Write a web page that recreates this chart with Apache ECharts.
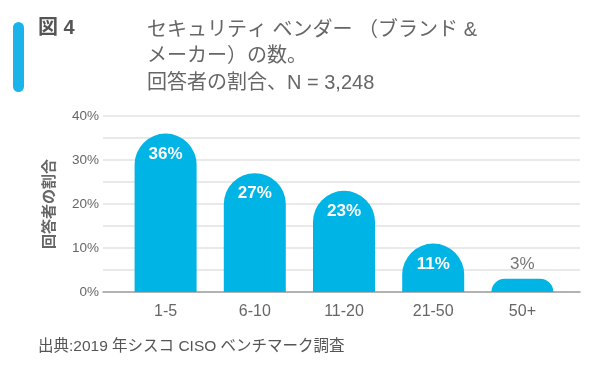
<!DOCTYPE html>
<html><head><meta charset="utf-8">
<script src="https://cdn.jsdelivr.net/npm/echarts@6/dist/echarts.min.js"></script>
<style>html,body{margin:0;padding:0;background:#fff}#c{width:600px;height:370px}</style>
</head><body><div id="c"></div>
<script>
const categories = ['1-5', '6-10', '11-20', '21-50', '50+'];
const values = [36, 27, 23, 11, 3];
const yTicks = [0, 10, 20, 30, 40];
const figLabel = '図 4';
const titleLines = ['セキュリティ ベンダー （ブランド &', 'メーカー）の数。', '回答者の割合、N = 3,248'];
const yName = '回答者の割合';
const sourceText = '出典:2019 年シスコ CISO ベンチマーク調査';

const FONT = '"Liberation Sans", "Noto Sans CJK JP", sans-serif';
const chart = echarts.init(document.getElementById('c'));
const yMax = yTicks[yTicks.length - 1];

chart.setOption({
  animation: false,
  grid: [
    {left: 103, right: 20, top: 116, bottom: 78},
    {left: 121, right: 33, top: 116, bottom: 78}
  ],
  xAxis: [
    {gridIndex: 0, type: 'value', min: 0, max: 1, axisLine: {show: true, lineStyle: {color: '#a0a0a0', width: 1.5}},
     axisTick: {show: false}, axisLabel: {show: false}, splitLine: {show: false}},
    {gridIndex: 1, type: 'category', data: categories, axisLine: {show: false}, axisTick: {show: false},
     axisLabel: {color: '#666', fontSize: 16, fontFamily: FONT, margin: 12}}
  ],
  yAxis: [
    {gridIndex: 0, type: 'value', min: 0, max: yMax, interval: 5,
     axisLine: {show: false}, axisTick: {show: false},
     axisLabel: {color: '#666', fontSize: 13.5, fontFamily: FONT, margin: 4,
       formatter: v => (yTicks.indexOf(v) >= 0 ? v + '%' : '')},
     splitLine: {lineStyle: {color: '#e2e2e2', width: 1.5}},
     name: yName, nameLocation: 'middle', nameRotate: 90, nameGap: 46,
     nameTextStyle: {color: '#666', fontSize: 15, fontWeight: 'bold', fontFamily: FONT}},
    {gridIndex: 1, type: 'value', min: 0, max: yMax, show: false, splitLine: {show: false}}
  ],
  series: [{
    type: 'bar', xAxisIndex: 1, yAxisIndex: 1, barWidth: 62,
    data: values.map(v => ({
      value: v,
      label: v < 5 ? {position: 'top', distance: 6, color: '#777', fontWeight: 'normal'} : {}
    })),
    itemStyle: {color: '#00b4e6', borderRadius: [31, 31, 0, 0]},
    label: {show: true, position: 'insideTop', distance: 12, color: '#fff', fontSize: 17,
      fontWeight: 'bold', fontFamily: FONT, formatter: p => p.value + '%'}
  }],
  graphic: [
    {type: 'rect', shape: {x: 13, y: 22, width: 11, height: 70, r: 5.5}, style: {fill: '#1bb4ea'}},
    {type: 'text', style: {text: figLabel, x: 38, y: 18, font: 'bold 20px ' + FONT, fill: '#555'}},
    {type: 'text', style: {text: titleLines.join('\n'), x: 147, y: 17, font: '20px ' + FONT,
      fill: '#666', lineHeight: 26.5}},
    {type: 'text', style: {text: sourceText, x: 38, y: 339, font: '15.5px ' + FONT, fill: '#555'}}
  ]
});
</script></body></html>
